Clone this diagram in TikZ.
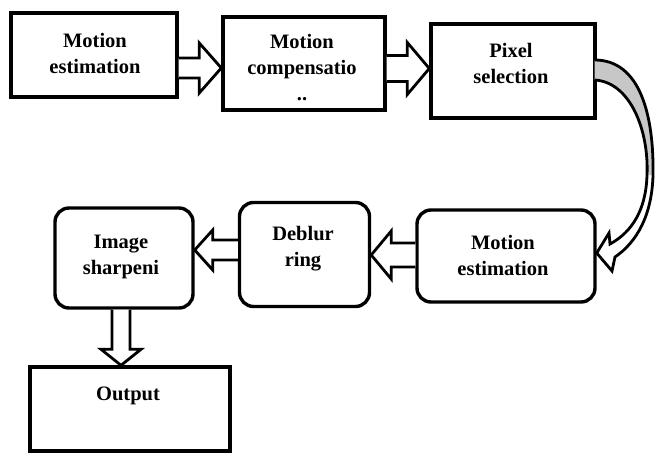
\documentclass[tikz,border=0pt]{standalone}
\usepackage{fontspec}
\setmainfont{Liberation Serif}
\usetikzlibrary{calc}

\tikzset{
  block/.style={draw, line width=3.4pt, inner sep=0pt},
  roundblock/.style={block, rounded corners=14pt},
  caption/.style={font=\bfseries\fontsize{20.5}{26}\selectfont, align=center, anchor=base, inner sep=0pt},
  hollow/.style={draw, line width=2.8pt, fill=white, line join=miter},
  bendarrow/.style={draw, line width=2.8pt, line join=miter},
  backface/.style={fill=black!22},
}

% block arrow from #1 to #2: shaft half width #3, head half width #4, head length #5
\newcommand{\hollowarrow}[5]{%
  \coordinate (ha) at #1;
  \coordinate (hb) at #2;
  \coordinate (hh) at ($(hb)!#5pt!(ha)$);
  \draw[hollow] ($(ha)!#3pt!90:(hb)$) -- ($(hh)!#3pt!90:(hb)$) -- ($(hh)!#4pt!90:(hb)$)
    -- (hb) -- ($(hh)!#4pt!-90:(hb)$) -- ($(hh)!#3pt!-90:(hb)$) -- ($(ha)!#3pt!-90:(hb)$);
}

\begin{document}
\begin{tikzpicture}[x=1pt,y=-1pt]
  \useasboundingbox (0,0) rectangle (655,453);

  % top row
  \node[block, minimum width=166pt, minimum height=84pt] (b1) at (94,55) {};
  \node[block, minimum width=162pt, minimum height=93pt] (b2) at (304,63.5) {};
  \node[block, minimum width=164pt, minimum height=94pt] (b3) at (513,71) {};

  % bottom row
  \node[roundblock, minimum width=178pt, minimum height=92pt] (b4) at (506,256) {};
  \node[roundblock, minimum width=130pt, minimum height=104pt] (b5) at (304.5,254.5) {};
  \node[roundblock, minimum width=138pt, minimum height=100pt] (b6) at (124,258) {};
  \node[block, minimum width=200pt, minimum height=84pt] (b7) at (130,409) {};

  % labels (base = last line)
  \node[caption] (t1) at (95,73) {Motion\\estimation};
  \node[caption] (t2) at (302,100) {Motion\\compensatio\\..};
  \node[caption] (t3) at (511,83) {Pixel\\selection};
  \node[caption] (t4) at (503,275) {Motion\\estimation};
  \node[caption] (t5) at (303,266) {Deblur\\ring};
  \node[caption] (t6) at (121,274) {Image\\sharpeni};
  \node[caption] (t7) at (128,400) {Output};

  % straight arrows
  \coordinate (r1) at (0,68);
  \coordinate (r2) at (0,68.5);
  \coordinate (r3) at (0,255);
  \coordinate (r4) at (0,250);
  \coordinate (r5) at (121,0);
  \hollowarrow{(b1.east |- r1)}{(b2.west |- r1)}{10}{25}{22}
  \hollowarrow{(b2.east |- r2)}{(b3.west |- r2)}{13}{26}{22}
  \hollowarrow{(b4.west |- r3)}{(b5.east |- r3)}{12}{24}{20}
  \hollowarrow{(b5.west |- r4)}{(b6.east |- r4)}{10}{20}{18}
  \hollowarrow{(b6.south -| r5)}{(b7.north -| r5)}{9}{20}{16}

  % curved arrow down the right side
  \coordinate (cs1) at ($(b3.east)+(-2,-11)$);
  \coordinate (cs2) at ($(b3.east)+(-2,9)$);
  \coordinate (ctip) at ($(b4.east)+(0,-3)$);
  \fill[backface] (cs1) .. controls (640,60) and (654,115) .. (653,175)
    -- (647,175) .. controls (649,130) and (630,82) .. (cs2) -- cycle;
  \draw[bendarrow] (cs1) .. controls (640,60) and (654,115) .. (653,175)
    .. controls (652,215) and (637,242) .. (615,257) -- (612,271) -- (ctip)
    -- (609,233) -- (610,244) .. controls (632,232) and (646,210) .. (647,175)
    .. controls (649,130) and (630,82) .. (cs2);
\end{tikzpicture}
\end{document}
